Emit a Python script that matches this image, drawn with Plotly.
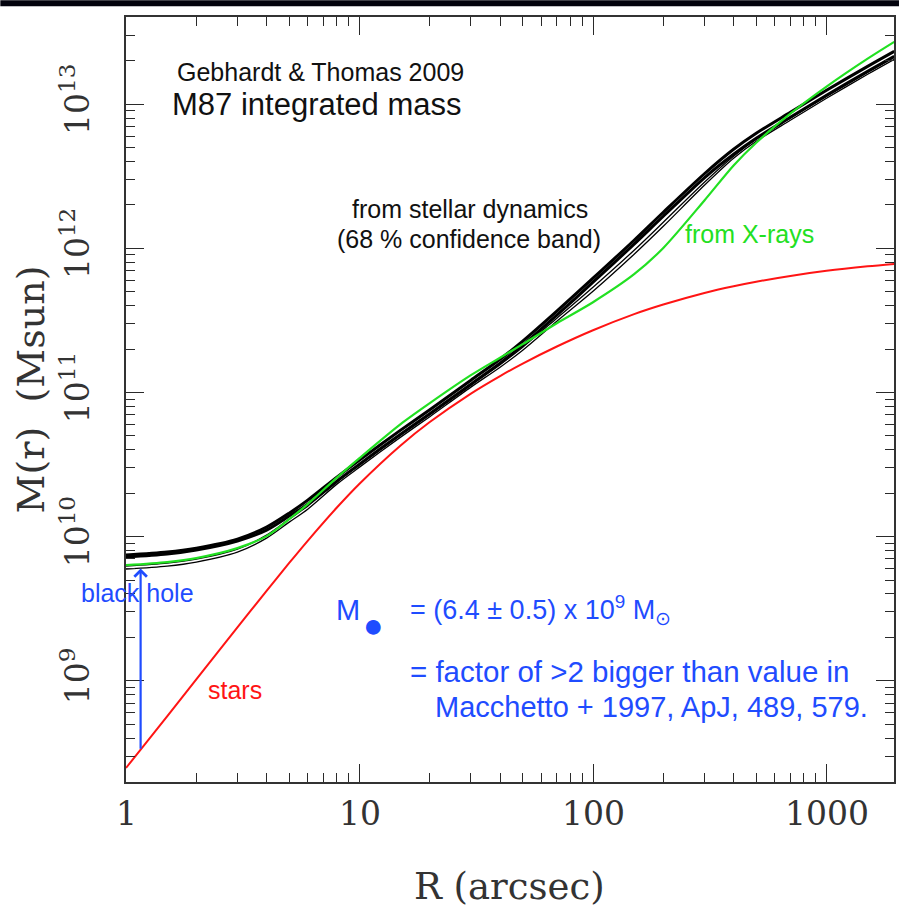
import numpy as np
import plotly.graph_objects as go

# ---- data ----
R = [1, 1.5, 2, 3, 4, 5, 6, 8, 10, 15, 20, 30, 40, 50, 70, 100, 150, 200,
     300, 400, 500, 700, 1000, 1500, 1950]

stars = [2.481e8, 5.664e8, 1.023e9, 2.342e9, 4.201e9, 6.561e9, 9.352e9, 1.591e10,
         2.328e10, 4.291e10, 6.233e10, 9.826e10, 1.300e11, 1.586e11, 2.084e11,
         2.704e11, 3.498e11, 4.077e11, 4.906e11, 5.461e11, 5.868e11, 6.434e11,
         6.982e11, 7.503e11, 7.795e11]

xrays = [6.34e9, 6.66e9, 7.10e9, 8.32e9, 1.008e10, 1.322e10, 1.680e10, 2.566e10,
         3.503e10, 6.029e10, 8.430e10, 1.318e11, 1.743e11, 2.163e11, 3.024e11,
         4.229e11, 6.613e11, 1.006e12, 2.149e12, 3.757e12, 5.399e12, 8.593e12,
         1.325e13, 2.071e13, 2.708e13]

# stellar dynamics, 68 % confidence band (individual models)
dyn_1 = [7.44e9, 7.81e9, 8.32e9, 9.61e9, 1.164e10, 1.455e10, 1.791e10, 2.586e10,
         3.393e10, 5.477e10, 7.598e10, 1.217e11, 1.702e11, 2.269e11, 3.663e11,
         6.203e11, 1.138e12, 1.780e12, 3.292e12, 4.867e12, 6.284e12, 8.787e12,
         1.249e13, 1.831e13, 2.327e13]
dyn_2 = [7.21e9, 7.56e9, 8.06e9, 9.31e9, 1.110e10, 1.388e10, 1.680e10, 2.426e10,
         3.183e10, 5.138e10, 7.129e10, 1.142e11, 1.597e11, 2.128e11, 3.436e11,
         5.821e11, 1.068e12, 1.669e12, 3.088e12, 4.494e12, 5.800e12, 8.114e12,
         1.153e13, 1.691e13, 2.149e13]
dyn_3 = [6.24e9, 6.55e9, 6.98e9, 8.19e9, 1.024e10, 1.322e10, 1.627e10, 2.387e10,
         3.132e10, 5.057e10, 7.015e10, 1.124e11, 1.559e11, 2.061e11, 3.276e11,
         5.375e11, 9.701e11, 1.517e12, 2.874e12, 4.352e12, 5.709e12, 7.984e12,
         1.134e13, 1.664e13, 2.115e13]
dyn_4 = [5.95e9, 6.24e9, 6.66e9, 7.81e9, 9.76e9, 1.260e10, 1.551e10, 2.313e10,
         3.034e10, 4.898e10, 6.795e10, 1.089e11, 1.498e11, 1.965e11, 3.123e11,
         5.042e11, 9.101e11, 1.423e12, 2.739e12, 4.215e12, 5.529e12, 7.731e12,
         1.099e13, 1.612e13, 2.048e13]

# black-hole arrow
bh_R = 1.155
bh_from = 3.3e8
bh_to = 6.0e9

x_ticks = [1, 10, 100, 1000]
x_ticktext = ["1", "10", "100", "1000"]
y_ticks = [1e9, 1e10, 1e11, 1e12, 1e13]
y_ticktext = ["10<sup>9</sup>", "10<sup>10</sup>", "10<sup>11</sup>",
              "10<sup>12</sup>", "10<sup>13</sup>"]

# ---- styles ----
RED = "#ff1414"
GREEN = "#22e022"
BLUE = "#1f4cff"
SERIF = "DejaVu Serif"
SANS = "Liberation Sans, Arial, sans-serif"
AXC = "#2a2a2a"

fig = go.Figure()

for ys, w in [(dyn_4, 1.3), (dyn_3, 1.3), (dyn_2, 3.0), (dyn_1, 3.0)]:
    fig.add_trace(go.Scatter(x=R, y=ys, mode="lines",
                             line=dict(color="black", width=w, shape="spline", smoothing=0.8),
                             showlegend=False, hoverinfo="skip"))

fig.add_trace(go.Scatter(x=R, y=xrays, mode="lines",
                         line=dict(color=GREEN, width=2.2, shape="spline", smoothing=0.8),
                         showlegend=False))
fig.add_trace(go.Scatter(x=R, y=stars, mode="lines",
                         line=dict(color=RED, width=2.0, shape="spline", smoothing=0.8),
                         showlegend=False))

minor_x = [k * 10 ** n for n in range(0, 4) for k in range(2, 10)]
minor_y = [k * 10 ** n for n in range(8, 14) for k in range(2, 10)]

fig.update_xaxes(type="log", range=[0, 3.289], tickmode="array",
                 tickvals=x_ticks, showticklabels=False,
                 ticks="inside", ticklen=18, tickwidth=1.3, tickcolor=AXC,
                 minor=dict(tickmode="array", tickvals=minor_x, ticks="inside",
                            ticklen=9, tickwidth=1.3, tickcolor=AXC, showgrid=False),
                 showline=True, linecolor="#333", linewidth=1.6, mirror="allticks",
                 showgrid=False, zeroline=False)
fig.update_yaxes(type="log", range=[8.2975, 13.605], tickmode="array",
                 tickvals=y_ticks, ticktext=y_ticktext, tickangle=-90,
                 ticks="inside", ticklen=18, tickwidth=1.3, tickcolor=AXC,
                 minor=dict(tickmode="array", tickvals=minor_y, ticks="inside",
                            ticklen=9, tickwidth=1.3, tickcolor=AXC, showgrid=False),
                 showline=True, linecolor="#333", linewidth=1.6, mirror="allticks",
                 showgrid=False, zeroline=False,
                 tickfont=dict(family=SERIF, size=33, color="#333"),
                 ticklabelstandoff=22)

ann = []
ann.append(dict(x=np.log10(bh_R), y=np.log10(bh_to), ax=np.log10(bh_R), ay=np.log10(bh_from),
                xref="x", yref="y", axref="x", ayref="y", showarrow=True,
                arrowhead=4, arrowsize=1.1, arrowwidth=2.2, arrowcolor=BLUE, text=""))

W, H, L, B = 770.0, 765.3, 126.0, 133.0
def px(xp):
    return (xp - L) / W
def py(yp):
    return (915 - B - yp) / H

def txt(x, y, s, size, color, family=SANS, xanchor="left", angle=0, xref="paper"):
    ann.append(dict(x=x, y=y, xref=xref, yref="paper", text=s, showarrow=False,
                    xanchor=xanchor, yanchor="middle", textangle=angle,
                    font=dict(family=family, size=size, color=color)))

# x tick labels
for v, t in zip(x_ticks, x_ticktext):
    txt(np.log10(v), py(814), t, 33, "#333", family=SERIF, xanchor="center", xref="x")

# axis titles
txt(px(510), py(887), "R (arcsec)", 37, "#333", family=SERIF, xanchor="center")
txt(px(31), py(389), "M(r)  (Msun)", 38, "#333", family=SERIF, xanchor="center", angle=-90)

txt(px(175), py(72), "Gebhardt &amp; Thomas 2009", 25, "#111")
txt(px(170), py(104), "M87 integrated mass", 31, "#111")
txt(px(471), py(209), "from stellar dynamics", 25, "#111", xanchor="center")
txt(px(470), py(239), "(68 % confidence band)", 25, "#111", xanchor="center")
txt(px(684), py(234), "from X-rays", 25, GREEN)
txt(px(79), py(593), "black hole", 25, BLUE)
txt(px(206), py(690), "stars", 25, RED)
txt(px(335), py(610), "M", 29, BLUE)
txt(px(362), py(625), "●", 34, BLUE)
txt(px(409), py(610), "= (6.4 ± 0.5) x 10<sup>9</sup> M<sub>⊙</sub>", 27, BLUE)
txt(px(409), py(671), "= factor of &gt;2 bigger than value in", 29.5, BLUE)
txt(px(434), py(707), "Macchetto + 1997, ApJ, 489, 579.", 29, BLUE)

fig.update_layout(
    width=901, height=915,
    margin=dict(l=126, r=5, t=17, b=133),
    paper_bgcolor="white", plot_bgcolor="white",
    annotations=ann,
    shapes=[dict(type="rect", xref="paper", yref="paper",
                 x0=px(0), x1=px(901), y0=py(6), y1=py(0),
                 fillcolor="#03030d", line=dict(width=0), layer="above")],
    showlegend=False,
)

fig.write_html("out.html")
